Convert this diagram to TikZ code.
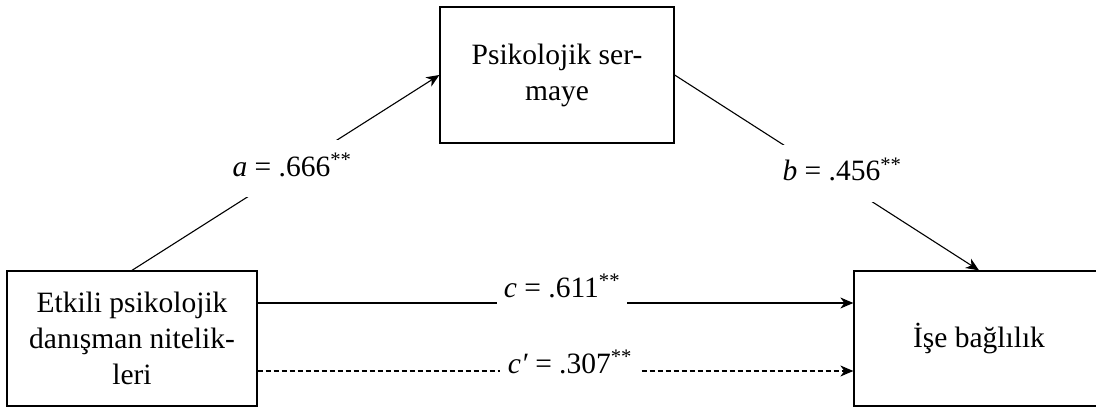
\documentclass[tikz,border=0pt]{standalone}
\usepackage{fontspec}
\setmainfont{Liberation Serif}
\usetikzlibrary{arrows.meta}

\begin{document}
\begin{tikzpicture}[x=1pt,y=1pt,
  font=\fontsize{29.5}{36}\selectfont,
  varbox/.style={draw=black,line width=1.3pt,fill=white,align=center,
    minimum width=#1,minimum height=135pt,inner sep=0pt},
  path/.style={draw=black,line width=1.1pt,
    -{Stealth[length=13pt,width=11pt,inset=4pt]}},
  coef/.style={fill=white,inner sep=0pt,inner xsep=7pt,
    text height=21pt,text depth=10pt},
  slantcoef/.style={coef,text depth=6pt,minimum height=57pt}
]
\useasboundingbox (0,0) rectangle (1096,-412);

% variables
\node[varbox=234pt,minimum height=136pt] (med) at (557,-75)
  {Psikolojik ser-\\maye};
\node[varbox=250pt] (pred) at (132,-338.5)
  {Etkili psikolojik\\danışman nitelik-\\leri};
\node[varbox=250pt] (out) at (979,-338.5) {İşe bağlılık};

% paths
\draw[path] (pred.north) -- (med.west);
\draw[path] (med.east) -- (out.north);
\draw[path] ([yshift=35.5pt]pred.east) -- ([yshift=35.5pt]out.west);
\draw[path,dash pattern=on 5pt off 3pt]
  ([yshift=-32.5pt]pred.east) -- ([yshift=-32.5pt]out.west);

% coefficients
\node[slantcoef] (ca) at (292,-168.5) {\textit{a} = .666\textsuperscript{**}};
\node[slantcoef] (cb) at (842,-173) {\textit{b} = .456\textsuperscript{**}};
\node[coef,anchor=base] (cc) at (562,-297) {\textit{c} = .611\textsuperscript{**}};
\node[coef,anchor=base,inner xsep=8pt,text depth=6pt] (ccp) at (570,-373)
  {\textit{c′} = .307\textsuperscript{**}};
\end{tikzpicture}
\end{document}
